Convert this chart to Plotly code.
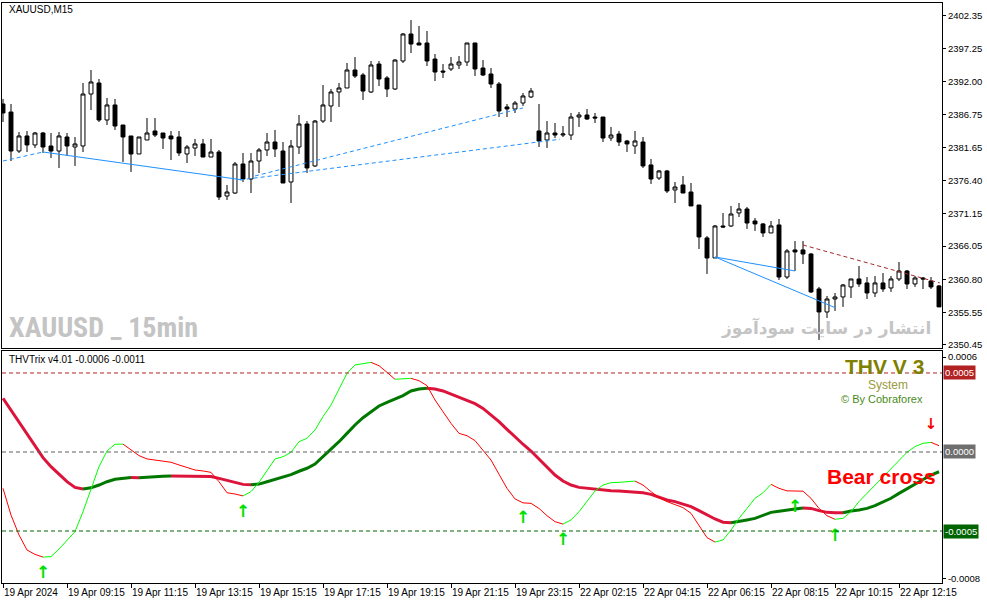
import plotly.graph_objects as go
from plotly.subplots import make_subplots

# XAUUSD M15, bar index 0 = 19 Apr 07:15, labels every 8 bars
opens = [2388.47, 2387.20, 2381.05, 2383.42, 2382.00, 2383.89, 2381.84, 2381.05, 2383.26, 2381.68,
         2381.84, 2390.04, 2391.78, 2385.94, 2388.31, 2385.15, 2383.42, 2380.58, 2382.79, 2384.21,
         2383.89, 2383.42, 2383.26, 2380.58, 2381.52, 2382.16, 2380.10, 2380.89, 2373.95, 2374.42,
         2379.00, 2376.63, 2379.47, 2381.21, 2382.47, 2381.05, 2376.16, 2381.68, 2385.31, 2378.69,
         2385.78, 2388.15, 2390.36, 2390.99, 2393.83, 2393.04, 2390.36, 2394.77, 2392.57, 2390.83,
         2395.25, 2399.51, 2398.09, 2398.09, 2395.56, 2393.67, 2393.99, 2394.62, 2395.09, 2398.09,
         2394.14, 2393.20, 2391.62, 2388.00, 2387.68, 2388.62, 2389.57, 2384.21, 2382.79, 2383.89,
         2383.57, 2383.57, 2386.41, 2386.73, 2386.41, 2386.41, 2383.10, 2383.73, 2382.63, 2381.84,
         2382.47, 2378.85, 2376.79, 2377.90, 2374.90, 2375.69, 2374.58, 2372.53, 2367.33, 2364.17,
         2369.22, 2369.22, 2371.27, 2371.90, 2370.01, 2369.54, 2368.12, 2369.38, 2361.17, 2365.44,
         2365.44, 2364.80, 2359.28, 2355.65, 2357.70, 2358.02, 2359.60, 2360.86, 2360.23, 2358.65,
         2360.23, 2359.44, 2360.86, 2362.12, 2360.07, 2361.01, 2360.54, 2359.76]
highs = [2389.26, 2388.47, 2384.05, 2384.21, 2384.05, 2384.05, 2383.89, 2384.05, 2383.89, 2383.26,
         2391.78, 2393.83, 2392.41, 2389.41, 2389.26, 2385.15, 2383.42, 2383.26, 2386.26, 2386.26,
         2383.89, 2384.21, 2384.21, 2382.00, 2382.95, 2382.95, 2382.95, 2381.21, 2375.69, 2379.32,
         2380.74, 2380.74, 2381.52, 2383.89, 2384.37, 2382.47, 2382.79, 2386.73, 2385.78, 2385.94,
         2391.46, 2390.83, 2391.78, 2394.93, 2395.88, 2393.35, 2395.25, 2395.25, 2392.88, 2395.56,
         2399.66, 2401.71, 2400.77, 2399.98, 2396.35, 2394.77, 2395.88, 2396.04, 2398.09, 2398.09,
         2395.40, 2394.14, 2391.94, 2388.47, 2388.94, 2390.20, 2390.99, 2388.47, 2385.78, 2385.47,
         2384.99, 2387.05, 2387.20, 2387.68, 2387.05, 2386.41, 2384.84, 2384.21, 2382.79, 2384.21,
         2383.26, 2379.79, 2378.06, 2378.06, 2376.16, 2377.11, 2376.00, 2372.53, 2367.64, 2369.38,
         2371.27, 2372.38, 2372.85, 2372.22, 2370.48, 2369.69, 2370.01, 2370.33, 2365.59, 2366.85,
         2366.85, 2364.96, 2359.60, 2358.18, 2358.65, 2360.07, 2360.86, 2362.91, 2361.17, 2361.33,
         2361.80, 2361.33, 2363.54, 2362.28, 2361.33, 2361.17, 2361.17, 2359.91]
lows = [2385.62, 2379.47, 2380.74, 2380.89, 2381.52, 2380.74, 2379.95, 2378.37, 2380.26, 2378.69,
        2380.89, 2387.52, 2385.62, 2385.15, 2384.37, 2379.32, 2377.74, 2380.58, 2382.79, 2383.26,
        2381.37, 2379.63, 2380.26, 2379.16, 2380.26, 2380.10, 2380.10, 2373.32, 2373.32, 2374.27,
        2376.16, 2374.42, 2377.58, 2380.26, 2380.10, 2376.00, 2372.85, 2380.58, 2377.58, 2378.53,
        2385.47, 2385.62, 2388.00, 2390.99, 2392.57, 2389.10, 2390.20, 2391.30, 2389.57, 2390.67,
        2394.93, 2396.51, 2397.77, 2394.46, 2392.09, 2392.57, 2393.67, 2393.99, 2394.46, 2392.88,
        2392.88, 2390.99, 2386.41, 2386.41, 2387.05, 2388.15, 2389.41, 2381.68, 2381.52, 2383.10,
        2383.26, 2382.79, 2384.84, 2385.94, 2385.47, 2382.47, 2382.63, 2381.84, 2380.89, 2380.58,
        2378.37, 2375.85, 2376.48, 2374.42, 2372.85, 2374.42, 2372.38, 2365.59, 2361.65, 2364.17,
        2368.90, 2369.06, 2370.64, 2368.75, 2368.43, 2367.49, 2368.12, 2360.70, 2360.86, 2362.12,
        2363.22, 2358.65, 2351.24, 2354.71, 2355.81, 2356.45, 2357.86, 2359.60, 2357.70, 2358.02,
        2358.81, 2358.81, 2360.54, 2359.28, 2359.60, 2359.28, 2359.28, 2356.45]
closes = [2387.05, 2381.05, 2383.42, 2382.00, 2383.89, 2381.68, 2381.05, 2383.42, 2381.84, 2382.16,
          2390.04, 2391.94, 2385.94, 2388.31, 2384.99, 2383.26, 2380.58, 2383.26, 2383.89, 2383.57,
          2383.10, 2382.95, 2380.74, 2381.68, 2382.16, 2380.10, 2380.89, 2373.79, 2374.58, 2379.00,
          2376.63, 2379.47, 2381.21, 2382.47, 2381.37, 2376.00, 2381.84, 2385.31, 2378.37, 2385.78,
          2388.31, 2390.36, 2390.99, 2393.83, 2392.88, 2390.51, 2394.62, 2392.41, 2390.83, 2395.40,
          2399.51, 2397.93, 2397.77, 2395.25, 2393.51, 2393.51, 2394.77, 2395.09, 2398.09, 2393.99,
          2393.04, 2391.62, 2387.36, 2387.68, 2388.62, 2389.73, 2390.51, 2382.63, 2383.89, 2383.57,
          2383.73, 2386.41, 2386.73, 2386.10, 2386.26, 2383.10, 2383.57, 2382.47, 2382.16, 2382.63,
          2378.69, 2376.63, 2377.90, 2374.74, 2375.37, 2374.42, 2372.38, 2367.49, 2364.17, 2369.22,
          2369.06, 2371.11, 2371.90, 2369.69, 2369.54, 2368.12, 2369.22, 2361.17, 2365.28, 2365.12,
          2364.80, 2358.81, 2355.65, 2357.70, 2358.02, 2359.91, 2360.86, 2360.07, 2358.65, 2360.23,
          2359.28, 2360.86, 2362.12, 2360.07, 2361.01, 2360.86, 2359.60, 2356.45]

# THVTrix lines, in units of 0.0001
trix_slow = [3.40, 2.66, 1.92, 1.18, 0.44, -0.36, -0.93, -1.41, -1.88, -2.24,
             -2.34, -2.27, -2.09, -1.88, -1.73, -1.67, -1.62, -1.63, -1.58, -1.56,
             -1.54, -1.52, -1.525, -1.53, -1.535, -1.54, -1.55, -1.67, -1.81, -1.94,
             -2.05, -2.07, -2.03, -1.88, -1.73, -1.60, -1.43, -1.22, -1.03, -0.76,
             -0.30, 0.13, 0.65, 1.18, 1.71, 2.17, 2.55, 2.91, 3.14, 3.33,
             3.57, 3.86, 3.99, 4.03, 3.99, 3.86, 3.65, 3.44, 3.25, 3.06,
             2.76, 2.34, 1.92, 1.43, 0.93, 0.49, 0.06, -0.44, -0.99, -1.46,
             -1.84, -2.09, -2.24, -2.30, -2.34, -2.41, -2.45, -2.47, -2.51, -2.53,
             -2.58, -2.68, -2.86, -3.04, -3.14, -3.29, -3.46, -3.71, -3.99, -4.24,
             -4.44, -4.48, -4.41, -4.30, -4.20, -4.03, -3.82, -3.75, -3.70, -3.61,
             -3.54, -3.57, -3.71, -3.82, -3.84, -3.85, -3.73, -3.67, -3.57, -3.40,
             -3.19, -2.93, -2.62, -2.34, -2.05, -1.73, -1.46, -1.25]
trix_fast = [-2.30, -3.99, -5.25, -6.20, -6.48, -6.65, -6.62, -6.14, -5.57, -5.04,
             -3.78, -2.30, -0.93, 0.06, 0.49, 0.50, 0.13, -0.23, -0.44, -0.51,
             -0.57, -0.65, -0.82, -0.99, -1.14, -1.20, -1.29, -1.88, -2.58, -2.66,
             -2.78, -2.51, -1.92, -1.14, -0.44, -0.30, -0.02, 0.65, 0.87, 1.39,
             2.24, 2.97, 4.03, 4.98, 5.51, 5.57, 5.67, 5.46, 5.04, 4.60,
             4.65, 4.66, 4.51, 4.20, 3.29, 2.55, 1.81, 1.18, 1.03, 0.72,
             0.13, -0.51, -1.41, -2.30, -2.97, -3.22, -3.25, -3.57, -4.03, -4.41,
             -4.56, -4.30, -3.78, -3.14, -2.47, -2.09, -1.94, -1.92, -1.90, -1.84,
             -2.09, -2.51, -2.88, -3.14, -3.35, -3.52, -3.88, -4.62, -5.42, -5.70,
             -5.57, -4.94, -4.20, -3.57, -2.93, -2.58, -2.05, -2.30, -2.46, -2.47,
             -2.48, -2.93, -3.57, -4.03, -4.26, -4.20, -3.78, -3.14, -2.62, -2.09,
             -1.56, -1.03, -0.51, -0.02, 0.34, 0.55, 0.61, 0.40]

# signal arrows (bar, value in 0.0001)
arrow_up_bars = [5, 30, 65, 70, 99, 104]
arrow_up_vals = [-7.72, -3.86, -4.24, -5.63, -3.52, -5.38]
arrow_dn_bars = [116]
arrow_dn_vals = [1.71]

# trend lines drawn on price: (bar0, price0, bar1, price1, colour, dash)
trend_lines = [
    (0, 2379.47, 5, 2380.89, "#1e90ff", "4px,3px"),
    (5, 2380.89, 30, 2376.48, "#1e90ff", "solid"),
    (29.6, 2376.48, 69.6, 2382.90, "#1e90ff", "4px,3px"),
    (31.5, 2377.11, 65, 2387.84, "#1e90ff", "4px,3px"),
    (89, 2364.33, 99, 2362.12, "#1e90ff", "solid"),
    (89, 2364.33, 104, 2356.34, "#1e90ff", "solid"),
    (100, 2366.22, 117.1, 2360.23, "#a52a2a", "4px,3px"),
]

price_ticks = [2402.35, 2397.25, 2392.00, 2386.75, 2381.65, 2376.40, 2371.15,
               2366.05, 2360.80, 2355.55, 2350.45]
time_tick_bars = list(range(0, 113, 8))
time_tick_labels = ["19 Apr 2024", "19 Apr 09:15", "19 Apr 11:15", "19 Apr 13:15",
                    "19 Apr 15:15", "19 Apr 17:15", "19 Apr 19:15", "19 Apr 21:15",
                    "19 Apr 23:15", "22 Apr 02:15", "22 Apr 04:15", "22 Apr 06:15",
                    "22 Apr 08:15", "22 Apr 10:15", "22 Apr 12:15"]

bars = list(range(len(opens)))
FONT = "Liberation Sans, Arial, sans-serif"

fig = make_subplots(rows=2, cols=1, shared_xaxes=True)

fig.add_trace(go.Candlestick(
    x=bars, open=opens, high=highs, low=lows, close=closes,
    increasing=dict(line=dict(color="black", width=1), fillcolor="white"),
    decreasing=dict(line=dict(color="black", width=1), fillcolor="black"),
    whiskerwidth=0, showlegend=False, hoverinfo="skip"), row=1, col=1)

for b0, p0, b1, p1, col, dash in trend_lines:
    fig.add_trace(go.Scatter(x=[b0, b1], y=[p0, p1], mode="lines",
                             line=dict(color=col, width=1, dash=dash),
                             showlegend=False, hoverinfo="skip"), row=1, col=1)


def slope_segments(vals):
    # split a line into runs of rising / falling
    segs = []
    start = 0
    up = vals[1] >= vals[0]
    for i in range(1, len(vals)):
        cur = vals[i] >= vals[i - 1]
        if cur != up:
            segs.append((start, i - 1, up))
            start = i - 1
            up = cur
    segs.append((start, len(vals) - 1, up))
    return segs


def add_colored_line(vals, up_col, dn_col, width):
    v = [x * 1e-4 for x in vals]
    for s, e, up in slope_segments(vals):
        fig.add_trace(go.Scatter(x=bars[s:e + 1], y=v[s:e + 1], mode="lines",
                                 line=dict(color=up_col if up else dn_col, width=width),
                                 showlegend=False, hoverinfo="skip"), row=2, col=1)


add_colored_line(trix_slow, "#007800", "#dc143c", 3)
add_colored_line(trix_fast, "#00ff00", "#ff0000", 1)

fig.add_trace(go.Scatter(x=arrow_up_bars, y=[v * 1e-4 for v in arrow_up_vals], mode="text",
                         text=["<b>↑</b>"] * len(arrow_up_bars),
                         textfont=dict(color="#00e000", size=17, family="DejaVu Sans"),
                         showlegend=False, hoverinfo="skip"), row=2, col=1)
fig.add_trace(go.Scatter(x=arrow_dn_bars, y=[v * 1e-4 for v in arrow_dn_vals], mode="text",
                         text=["<b>↓</b>"] * len(arrow_dn_bars),
                         textfont=dict(color="#ff0000", size=15, family="DejaVu Sans"),
                         showlegend=False, hoverinfo="skip"), row=2, col=1)

# indicator levels
for lvl, col in [(0.0005, "#b22222"), (0.0, "#606060"), (-0.0005, "#006400")]:
    fig.add_hline(y=lvl, line=dict(color=col, width=1, dash="4px,3px"), row=2, col=1)

axis_common = dict(showline=True, mirror=True, linecolor="black", linewidth=1,
                   showgrid=False, zeroline=False, automargin=False)

fig.update_layout(
    width=987, height=605,
    margin=dict(l=2, r=45, t=3, b=22),
    paper_bgcolor="white", plot_bgcolor="white",
    font=dict(family=FONT, size=10, color="black"),
    xaxis=dict(axis_common, range=[-0.125, 117.375], showticklabels=False, ticks="",
               rangeslider=dict(visible=False)),
    xaxis2=dict(axis_common, range=[-0.125, 117.375], tickvals=time_tick_bars,
                ticktext=time_tick_labels, ticks="outside", ticklen=4, tickcolor="black",
                tickangle=0, ticklabelposition="outside right", tickfont=dict(size=10)),
    yaxis=dict(axis_common, domain=[0.4052, 1.0], side="right", range=[2349.97, 2404.40],
               tickvals=price_ticks, ticktext=[f"{p:.2f}" for p in price_ticks],
               ticks="outside", ticklen=3, tickcolor="black", tickfont=dict(size=9.5)),
    yaxis2=dict(axis_common, domain=[0.0, 0.4], side="right", range=[-0.000829, 0.000639],
                tickvals=[0.0006, -0.0008], ticktext=["0.0006", "-0.0008"],
                ticks="outside", ticklen=3, tickcolor="black", tickfont=dict(size=9.5)),
)

# coloured level labels on the indicator scale
for lvl, txt, bg in [(0.0005, "0.0005", "#b22222"), (0.0, "0.0000", "#6e6e6e"),
                     (-0.0005, "-0.0005", "#006400")]:
    fig.add_annotation(x=1.0, xref="paper", y=lvl, yref="y2", text=txt, showarrow=False,
                       xanchor="left", xshift=1, bgcolor=bg, borderpad=1,
                       font=dict(color="white", size=9.5, family=FONT))

notes = [
    (0.0053, 0.988, "XAUUSD,M15", dict(size=10, color="black", family=FONT), "left"),
    (0.0053, 0.441, "<b>XAUUSD _ 15min</b>",
     dict(size=28, color="#c4c4c4", family="Liberation Sans Narrow, Roboto Condensed, sans-serif"), "left"),
    (0.8766, 0.440, "<b>انتشار در سایت سودآموز</b>",
     dict(size=17, color="#c4c4c4", family="DejaVu Sans, sans-serif"), "center"),
    (0.0053, 0.386, "THVTrix v4.01 -0.0006 -0.0011", dict(size=10, color="black", family=FONT), "left"),
    (0.939, 0.3740, "<b>THV V 3</b>", dict(size=21, color="#808000", family=FONT), "center"),
    (0.943, 0.341, "System", dict(size=12, color="#9a9a40", family=FONT), "center"),
    (0.936, 0.317, "© By Cobraforex", dict(size=11, color="#4a8a1a", family=FONT), "center"),
    (0.936, 0.184, "<b>Bear cross</b>", dict(size=21, color="#ff0000", family=FONT), "center"),
]
for x, y, txt, f, anchor in notes:
    fig.add_annotation(x=x, y=y, xref="paper", yref="paper", text=txt, showarrow=False,
                       xanchor=anchor, yanchor="middle", font=f)

# drop the browser's default page margin so the chart sits flush like the terminal window
fig.write_html("out.html", config={"displayModeBar": False},
               post_script="document.body.style.margin = '0px';")
